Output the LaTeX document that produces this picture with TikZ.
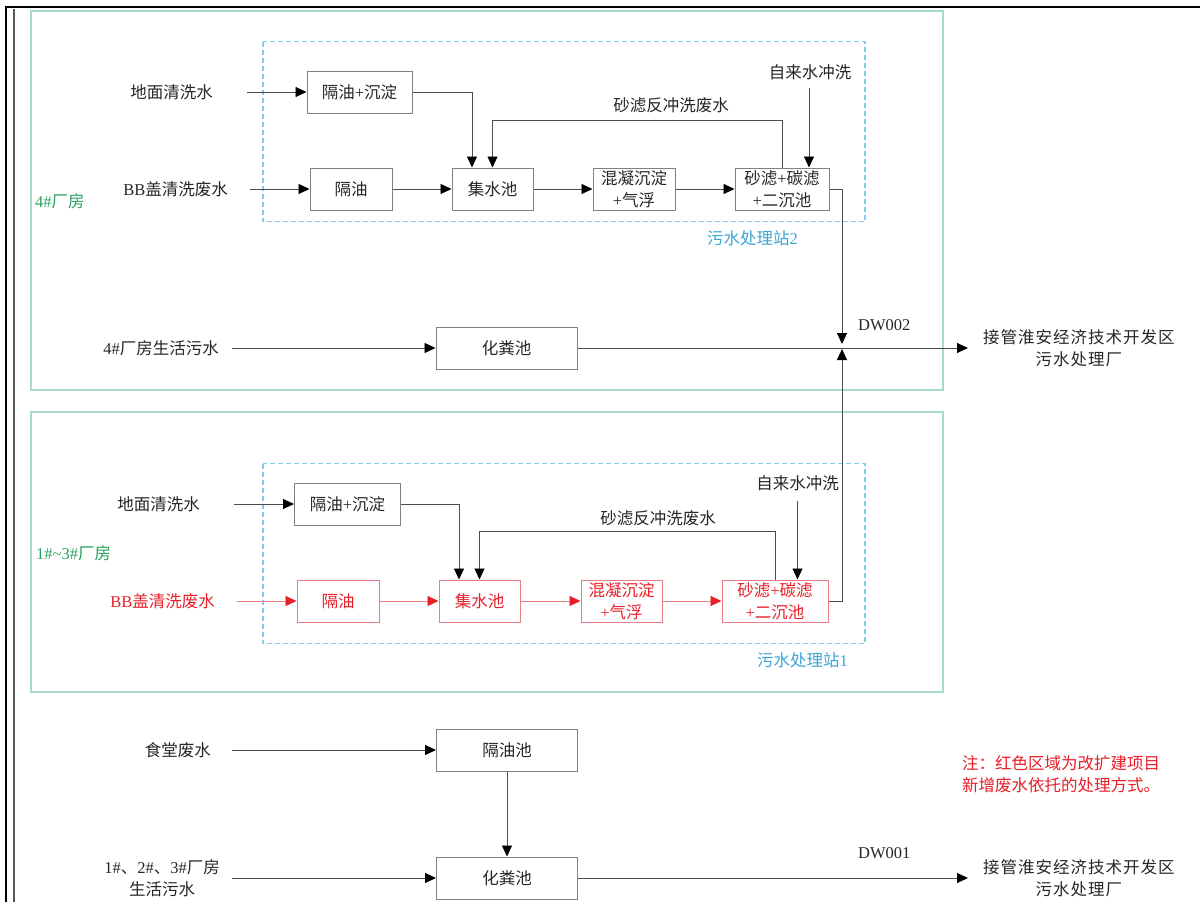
\documentclass[tikz,border=0pt]{standalone}
\usepackage{fontspec}
\setmainfont{Noto Sans CJK SC}
\newfontfamily\tnr{Liberation Serif}
\newfontfamily\widecjk[LetterSpace=6]{Noto Sans CJK SC}
\usepackage{xcolor}
\usetikzlibrary{arrows.meta}

\definecolor{framegreen}{RGB}{165,220,195}
\definecolor{labelgreen}{RGB}{40,160,90}
\definecolor{stationblue}{RGB}{130,205,235}
\definecolor{labelblue}{RGB}{60,165,215}
\definecolor{newred}{RGB}{232,30,40}
\definecolor{boxred}{RGB}{232,125,135}

\begin{document}
\begin{tikzpicture}[x=1pt, y=-1pt,
  every node/.style={inner sep=0pt, font=\fontsize{16.5}{22}\selectfont, text=black!85},
  box/.style={draw=black!50, line width=1pt, minimum height=42pt, align=center},
  redbox/.style={box, draw=boxred, text=newred},
  lbl/.style={align=center},
  arrow/.style={-{Triangle[length=11pt,width=10pt,color=black,fill=black]}, black!70, line width=0.9pt},
  redarrow/.style={-{Triangle[length=11pt,width=10pt,color=newred,fill=newred]}, boxred, line width=0.9pt},
  plant/.style={draw=framegreen, line width=1.4pt},
  station/.style={draw=stationblue, line width=1.1pt, dash pattern=on 5pt off 3pt}
]
\useasboundingbox (0,0) rectangle (1200,902);

% page border
\draw[line width=2.5pt] (6.2,902) -- (6.2,7) -- (1200,7);
\draw[black!65, line width=2pt] (13.8,902) -- (13.8,8.5);

% ---- 4# plant ----
\draw[plant] (31,11) rectangle (943,390);
\node[text=labelgreen, anchor=west] (plant4) at (35,201) {{\tnr 4\#}厂房};
\draw[station] (263,41.5) rectangle (865,221.5);
\node[text=labelblue, anchor=west] (stn2) at (707,238) {污水处理站{\tnr 2}};

\node[lbl, anchor=east] (floor2) at (213,92) {地面清洗水};
\node[lbl, anchor=east] (bb2) at (228,189) {{\tnr BB}盖清洗废水};
\node[box, minimum width=105pt] (sep2) at (359.5,92) {隔油{\tnr +}沉淀};
\node[box, minimum width=82pt] (oil2) at (351,189) {隔油};
\node[box, minimum width=81pt] (coll2) at (492.5,189) {集水池};
\node[box, minimum width=82pt] (coag2) at (634,189) {混凝沉淀\\{\tnr +}气浮};
\node[box, minimum width=94pt] (filt2) at (782,189) {砂滤{\tnr +}碳滤\\{\tnr +}二沉池};
\node[lbl] (tap2) at (810,72) {自来水冲洗};
\node[lbl] (back2) at (671,105) {砂滤反冲洗废水};

\draw[arrow, shorten <=34pt] (floor2.east) -- (sep2.west);
\draw[arrow, shorten <=22pt] (bb2.east) -- (oil2.west);
\draw[arrow] (oil2) -- (coll2);
\draw[arrow] (coll2) -- (coag2);
\draw[arrow] (coag2) -- (filt2);
\draw[arrow] (sep2.east) -| ([xshift=-20.5pt]coll2.north);
\draw[arrow] (filt2.north) -- ++(0,-47) -| (coll2.north);
\draw[arrow, shorten <=8pt] ([xshift=-1pt]tap2.south) -- ([xshift=-1pt]tap2.south |- filt2.north);

\coordinate (dw2) at (842,348);
\node[lbl, anchor=east] (dom4) at (219,348) {{\tnr 4\#}厂房生活污水};
\node[box, minimum width=141pt] (tank4) at (506.5,348) {化粪池};
\node[lbl, anchor=west] (out2) at (983,348) {\widecjk 接管淮安经济技术开发区\\\widecjk 污水处理厂};
\node[anchor=west] (dwtwo) at (858,325) {\tnr DW002};

\draw[arrow, shorten <=13pt] (dom4.east) -- (tank4.west);
\draw[arrow, shorten >=15pt] (tank4.east) -- (out2.west);
\draw[arrow, shorten >=4pt] (filt2.east) -| (dw2);

% ---- 1#~3# plant ----
\draw[plant] (31,412) rectangle (943,692);
\node[text=labelgreen, anchor=west] (plant13) at (36,553) {{\tnr 1\#\textasciitilde 3\#}厂房};
\draw[station] (263,463.5) rectangle (865,643.5);
\node[text=labelblue, anchor=west] (stn1) at (757,660) {污水处理站{\tnr 1}};

\node[lbl, anchor=east] (floor1) at (200,504) {地面清洗水};
\node[lbl, anchor=east, text=newred] (bb1) at (215,601) {{\tnr BB}盖清洗废水};
\node[box, minimum width=106pt] (sep1) at (347.5,504) {隔油{\tnr +}沉淀};
\node[redbox, minimum width=82pt] (oil1) at (338,601) {隔油};
\node[redbox, minimum width=81pt] (coll1) at (479.5,601) {集水池};
\node[redbox, minimum width=81pt] (coag1) at (621.5,601) {混凝沉淀\\{\tnr +}气浮};
\node[redbox, minimum width=106pt] (filt1) at (775,601) {砂滤{\tnr +}碳滤\\{\tnr +}二沉池};
\node[lbl] (tap1) at (797.5,483) {自来水冲洗};
\node[lbl] (back1) at (658,518) {砂滤反冲洗废水};

\draw[arrow, shorten <=34pt] (floor1.east) -- (sep1.west);
\draw[redarrow, shorten <=22pt] (bb1.east) -- (oil1.west);
\draw[redarrow] (oil1) -- (coll1);
\draw[redarrow] (coll1) -- (coag1);
\draw[redarrow] (coag1) -- (filt1);
\draw[arrow] (sep1.east) -| ([xshift=-20.5pt]coll1.north);
\draw[arrow] (filt1.north) -- ++(0,-48) -| (coll1.north);
\draw[arrow, shorten <=10pt] (tap1.south) -- (tap1.south |- filt1.north);
\draw[arrow, shorten >=1pt] (filt1.east) -| (dw2);

% ---- canteen and domestic ----
\node[lbl, anchor=east] (canteen) at (211,750) {食堂废水};
\node[box, minimum width=141pt] (grease) at (507,750) {隔油池};
\node[lbl, anchor=east] (dom13) at (220,878) {{\tnr 1\#}、{\tnr 2\#}、{\tnr 3\#}厂房\\生活污水};
\node[box, minimum width=141pt] (septic) at (507,878) {化粪池};
\node[lbl, anchor=west] (out1) at (983,878) {\widecjk 接管淮安经济技术开发区\\\widecjk 污水处理厂};
\node[anchor=west] (dwone) at (858,853) {\tnr DW001};
\node[align=left, anchor=west, text=newred] (note) at (962,774) {注：红色区域为改扩建项目\\新增废水依托的处理方式。};

\draw[arrow, shorten <=21pt] (canteen.east) -- (grease.west);
\draw[arrow] (grease) -- (septic);
\draw[arrow, shorten <=12pt] (dom13.east) -- (septic.west);
\draw[arrow, shorten >=15pt] (septic.east) -- (out1.west);
\end{tikzpicture}
\end{document}
